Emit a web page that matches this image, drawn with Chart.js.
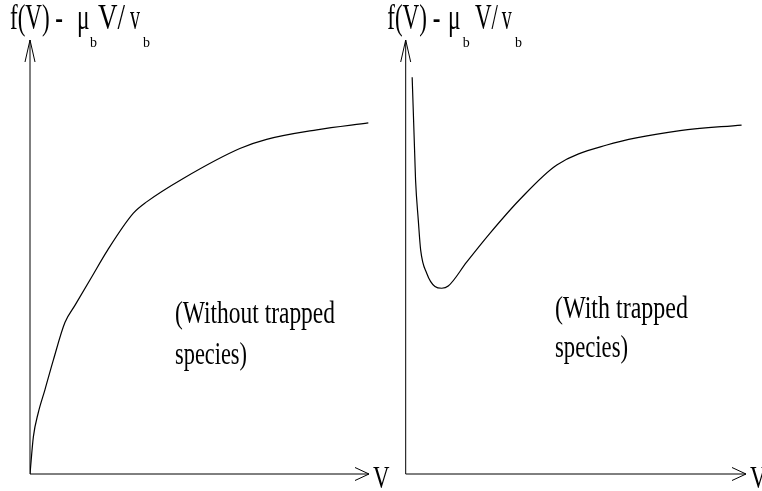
<!DOCTYPE html>
<html>
<head>
<meta charset="utf-8">
<script src="https://cdn.jsdelivr.net/npm/chart.js@4"></script>
<style>
html,body{margin:0;padding:0;background:#fff;}
#wrap{position:relative;width:762px;height:491px;overflow:hidden;}
canvas{position:absolute;top:0;}
</style>
</head>
<body>
<div id="wrap">
<canvas id="c1" width="400" height="491" style="left:0"></canvas>
<canvas id="c2" width="381" height="491" style="left:381px"></canvas>
</div>
<script>
// ---- data (schematic units, V and f on 0..10) ----
const leftV  = [0, 0.10, 0.24, 0.44, 0.69, 1.03, 1.33, 1.82, 2.29, 3.05, 3.44, 4.52, 6.19, 6.98, 8.46, 9.98];
const leftF  = [0, 0.86, 1.40, 1.94, 2.63, 3.49, 3.89, 4.54, 5.16, 6.01, 6.27, 6.81, 7.50, 7.71, 7.93, 8.09];
const rightV = [0.19, 0.27, 0.29, 0.37, 0.44, 0.62, 0.86, 1.06, 1.25, 1.79, 2.48, 3.36, 4.44, 5.91, 8.06, 9.87];
const rightF = [9.14, 7.24, 6.77, 5.85, 5.16, 4.62, 4.32, 4.28, 4.33, 4.88, 5.55, 6.33, 7.12, 7.58, 7.91, 8.04];
const yAxisTitle = ["f(V) -", "\u03BC", "b", "V/", "v", "b"];
const xAxisTitle = "V";
const leftNote  = ["(Without trapped", "species)"];
const rightNote = ["(With trapped", "species)"];

const FONT = '"Liberation Serif", "Times New Roman", serif';

function drawT(ctx, text, x, y, size, sx) {
  ctx.save();
  ctx.font = size + 'px ' + FONT;
  ctx.textBaseline = 'alphabetic';
  ctx.textAlign = 'left';
  ctx.fillStyle = '#000';
  ctx.translate(x, y);
  ctx.scale(sx, 1);
  ctx.fillText(text, 0, 0);
  ctx.restore();
}
function fitT(ctx, text, x, y, size, w) {
  ctx.save();
  ctx.font = size + 'px ' + FONT;
  const nat = ctx.measureText(text).width;
  ctx.restore();
  drawT(ctx, text, x, y, size, w / nat);
}

function makePlugin(cfg) {
  return {
    id: 'schematic',
    afterDatasetsDraw(chart) {
      const ctx = chart.ctx;
      const xs = chart.scales.x, ys = chart.scales.y;
      const x0 = xs.getPixelForValue(0), x1 = xs.getPixelForValue(10);
      const y0 = ys.getPixelForValue(0), y1 = ys.getPixelForValue(10);
      ctx.save();
      ctx.strokeStyle = '#000';
      ctx.lineWidth = 1;
      ctx.beginPath();
      // y axis + arrow
      ctx.moveTo(x0, y0); ctx.lineTo(x0, y1);
      ctx.moveTo(x0 - 5, y1 + 22); ctx.lineTo(x0, y1); ctx.lineTo(x0 + 5, y1 + 22);
      // x axis + arrow
      ctx.moveTo(x0, y0); ctx.lineTo(x1, y0);
      ctx.moveTo(x1 - 14, y0 - 6.5); ctx.lineTo(x1, y0); ctx.lineTo(x1 - 14, y0 + 6.5);
      ctx.stroke();
      ctx.restore();
      // y axis title pieces
      const t = cfg.title;
      fitT(ctx, yAxisTitle[0], x0 + t[0], 28.5, 35, 53);
      fitT(ctx, yAxisTitle[1], x0 + t[1], 28.5, 35, 12.5);
      fitT(ctx, yAxisTitle[2], x0 + t[2], 47, 15, 7);
      fitT(ctx, yAxisTitle[3], x0 + t[3], 28.5, 35, t[6]);
      fitT(ctx, yAxisTitle[4], x0 + t[4], 28.5, 35, 10);
      fitT(ctx, yAxisTitle[5], x0 + t[5], 47, 15, 7);
      // x axis title
      fitT(ctx, xAxisTitle, x1 + 4, 488, 32, 16.5);
      // notes
      const n = cfg.note;
      fitT(ctx, n.lines[0], n.x, n.b1, 31, n.w1);
      fitT(ctx, n.lines[1], n.x, n.b2, 31, n.w2);
    }
  };
}

function makeChart(id, vs, fs, pad, cfg) {
  const pts = vs.map((v, i) => ({x: v, y: fs[i]}));
  return new Chart(document.getElementById(id), {
    type: 'line',
    data: { datasets: [{ data: pts, borderColor: '#000', borderWidth: 1.2,
      pointRadius: 0, fill: false, cubicInterpolationMode: 'monotone' }] },
    options: {
      responsive: false, animation: false, devicePixelRatio: 1,
      layout: { padding: pad },
      plugins: { legend: { display: false }, tooltip: { enabled: false } },
      scales: {
        x: { type: 'linear', min: 0, max: 10, display: false },
        y: { type: 'linear', min: 0, max: 10, display: false }
      }
    },
    plugins: [makePlugin(cfg)]
  });
}

makeChart('c1', leftV, leftF, {left: 30, top: 40, right: 31, bottom: 17}, {
  title: [-20, 47, 60, 68, 100, 113, 27],
  note: {lines: leftNote, x: 175, b1: 323, b2: 364, w1: 160, w2: 72}
});
makeChart('c2', rightV, rightF, {left: 24.7, top: 40, right: 16, bottom: 17}, {
  title: [-18.4, 42.3, 57, 69.3, 96, 109.3, 23],
  note: {lines: rightNote, x: 174, b1: 318, b2: 357, w1: 133, w2: 73}
});
</script>
</body>
</html>
